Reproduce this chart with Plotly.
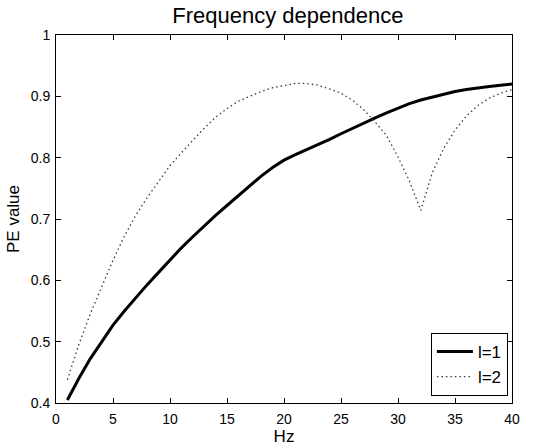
import plotly.graph_objects as go

hz = list(range(1, 41))
pe_l1 = [0.405, 0.440, 0.472, 0.500, 0.527, 0.550, 0.572, 0.593, 0.613, 0.633,
         0.653, 0.671, 0.689, 0.706, 0.722, 0.738, 0.755, 0.770, 0.784, 0.796,
         0.805, 0.813, 0.821, 0.830, 0.839, 0.848, 0.857, 0.865, 0.873, 0.881,
         0.888, 0.894, 0.899, 0.904, 0.908, 0.911, 0.914, 0.916, 0.918, 0.920]
pe_l2 = [0.438, 0.495, 0.545, 0.590, 0.633, 0.672, 0.706, 0.735, 0.762, 0.787,
         0.808, 0.828, 0.848, 0.866, 0.880, 0.892, 0.900, 0.908, 0.914, 0.918,
         0.921, 0.921, 0.918, 0.912, 0.905, 0.894, 0.878, 0.858, 0.836, 0.801,
         0.762, 0.714, 0.775, 0.815, 0.845, 0.868, 0.885, 0.897, 0.905, 0.911]
x_ticks = [0, 5, 10, 15, 20, 25, 30, 35, 40]
y_ticks = [0.4, 0.5, 0.6, 0.7, 0.8, 0.9, 1.0]
y_ticklabels = ["0.4", "0.5", "0.6", "0.7", "0.8", "0.9", "1"]

FONT = "Liberation Sans, Arial, Helvetica, sans-serif"

fig = go.Figure()
fig.add_trace(go.Scatter(x=hz, y=pe_l1, mode="lines", name="l=1",
                         line=dict(color="black", width=3)))
fig.add_trace(go.Scatter(x=hz, y=pe_l2, mode="lines", name="l=2",
                         line=dict(color="#3a3a3a", width=1.3, dash="1.5px,3px")))

axis_common = dict(showgrid=False, zeroline=False, showline=True, linecolor="black",
                   linewidth=1, mirror="ticks", ticks="inside", ticklen=5,
                   tickcolor="black", tickfont=dict(family=FONT, size=14, color="black"))

fig.update_layout(
    width=534, height=446,
    margin=dict(l=56, r=22, t=35, b=43, autoexpand=False),
    paper_bgcolor="white", plot_bgcolor="white",
    title=dict(text="Frequency dependence", x=0.539, xref="container", xanchor="center",
               y=0.966, yref="container", yanchor="middle",
               font=dict(family=FONT, size=22, color="black")),
    xaxis=dict(range=[0, 40], tickvals=x_ticks, ticklabelstandoff=3,
               title=dict(text="Hz", font=dict(family=FONT, size=17, color="black"), standoff=0),
               **axis_common),
    yaxis=dict(range=[0.4, 1.0], tickvals=y_ticks, ticktext=y_ticklabels, ticklabelstandoff=2,
               title=dict(text="PE value", font=dict(family=FONT, size=17, color="black"), standoff=6),
               **axis_common),
    legend=dict(x=0.991, y=0.019, xanchor="right", yanchor="bottom",
                bgcolor="white", bordercolor="black", borderwidth=1, itemwidth=36,
                font=dict(family=FONT, size=17, color="black"), tracegroupgap=0),
    showlegend=True,
)

fig.write_html("out.html", config={"displayModeBar": False},
               post_script="document.body.style.margin='0';document.body.style.overflow='hidden';")
